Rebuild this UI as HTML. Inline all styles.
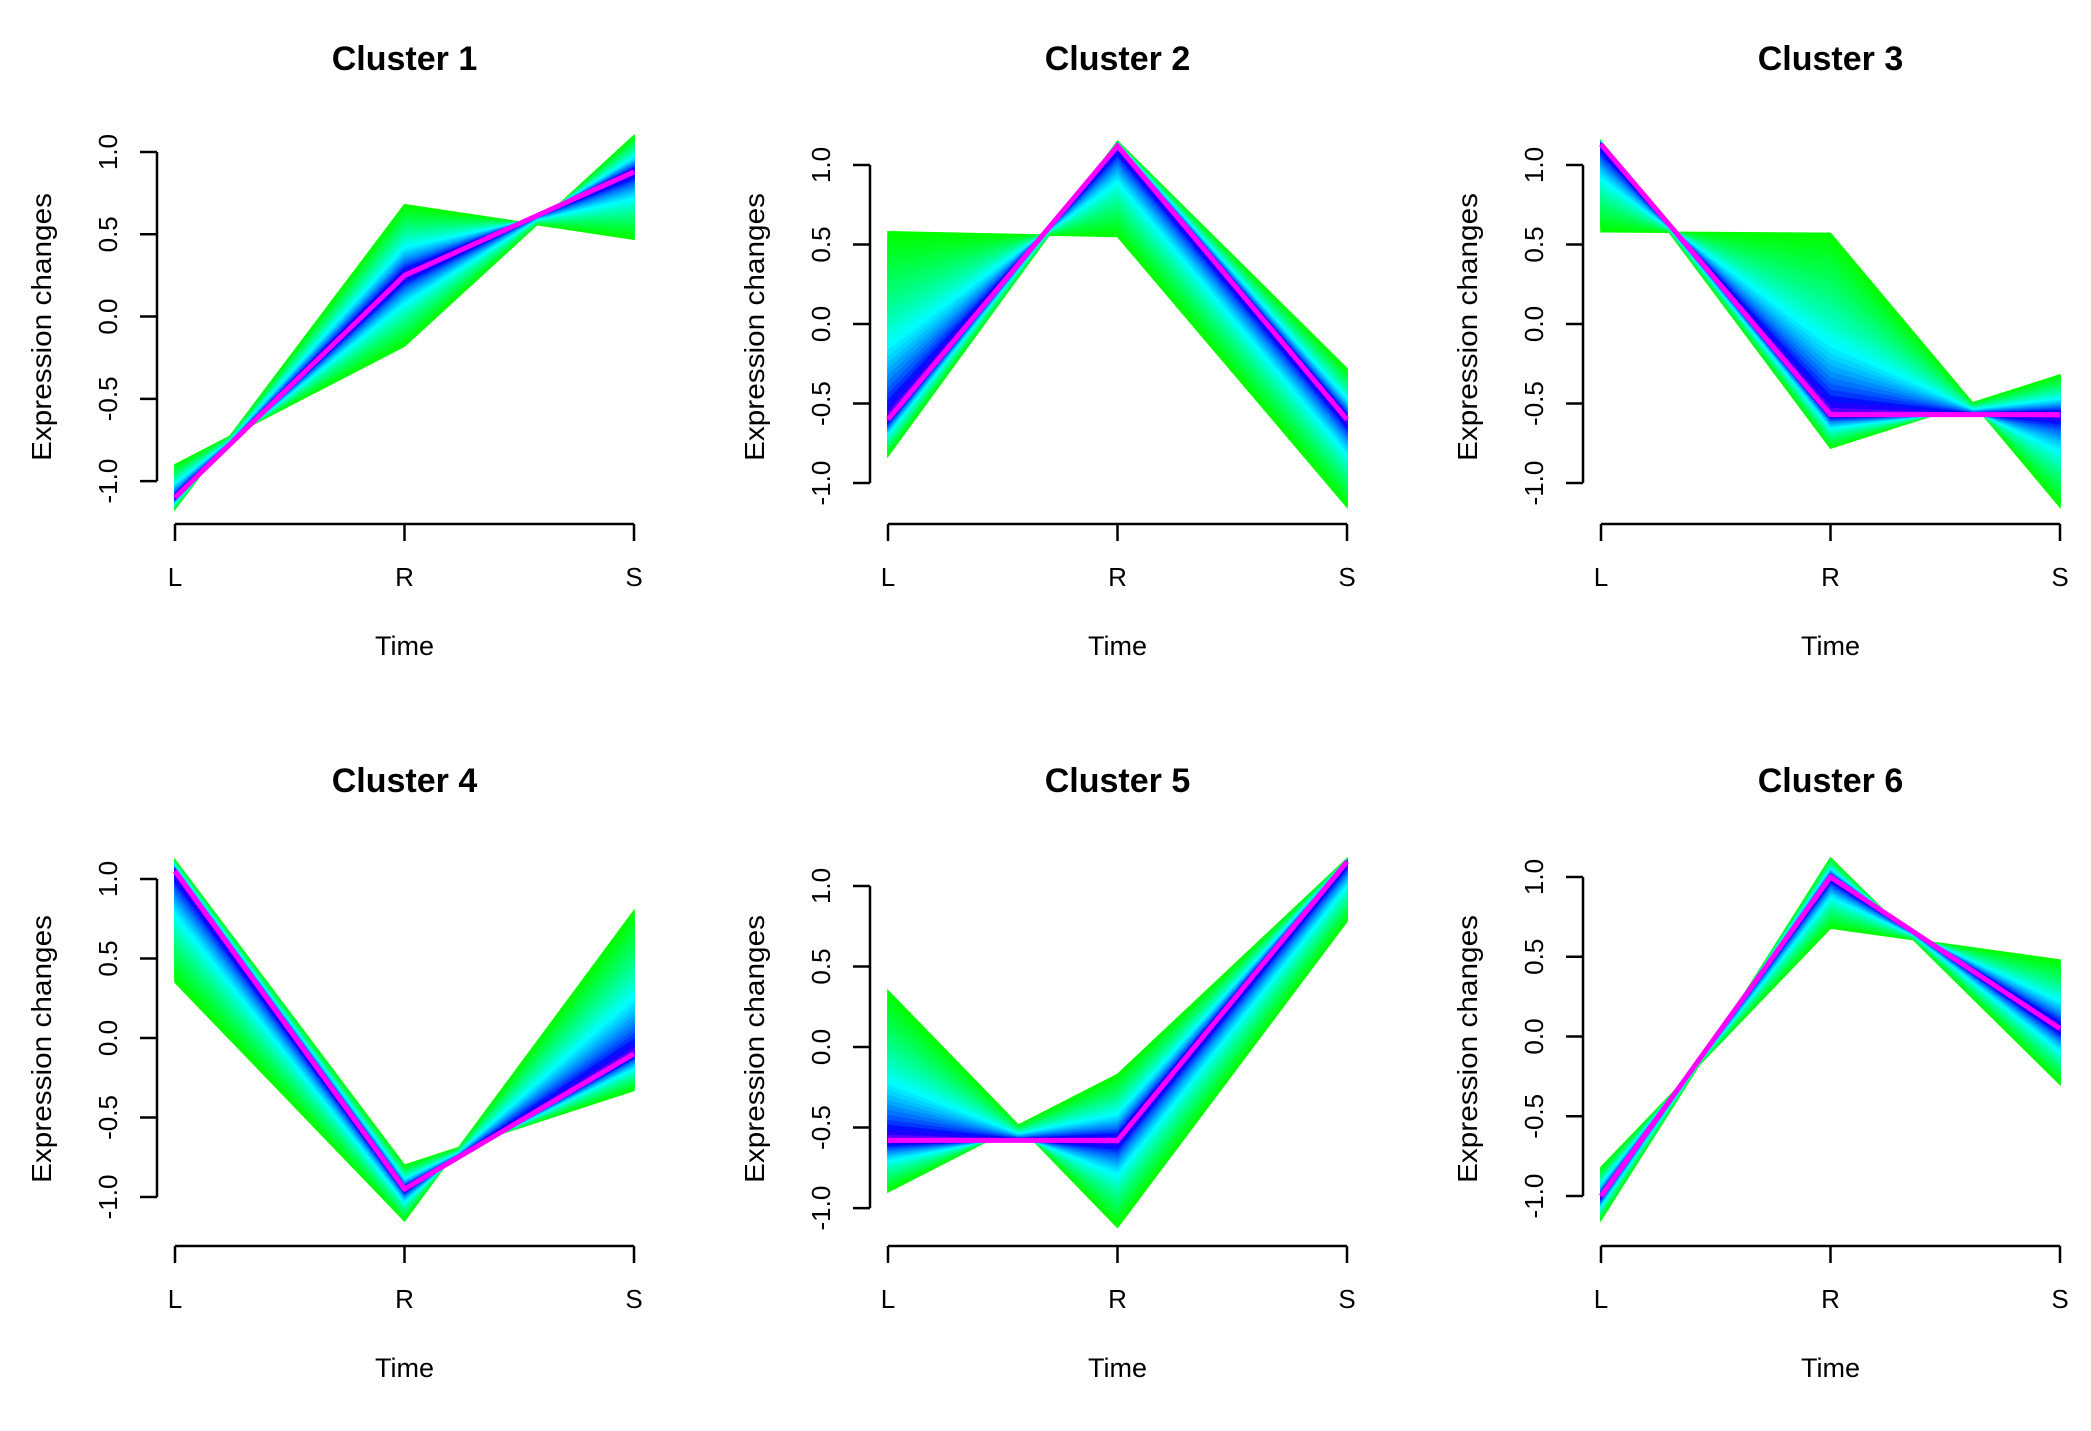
<!DOCTYPE html>
<html><head><meta charset="utf-8"><style>
html,body{margin:0;padding:0;background:#fff}
svg text{font-family:"Liberation Sans",Arial,sans-serif;fill:#000}
</style></head><body>
<svg id="chart" width="2091" height="1426" viewBox="0 0 2091 1426" xmlns="http://www.w3.org/2000/svg"></svg>
<script>
const categories = ["L","R","S"];
const clusterTitles = ["Cluster 1","Cluster 2","Cluster 3","Cluster 4","Cluster 5","Cluster 6"];
const centerValues = [[-1.10,0.25,0.88],[-0.60,1.12,-0.60],[1.13,-0.57,-0.57],[1.05,-0.95,-0.10],[-0.58,-0.58,1.15],[-1.00,1.00,0.05]];
const edgeA = [[-0.90,-0.18,1.10],[0.58,0.55,-1.15],[0.58,0.57,-1.15],[0.35,-1.15,0.80],[0.35,-1.12,0.78],[-0.82,0.68,0.48]];
const edgeB = [[-1.17,0.68,0.47],[-0.83,1.15,-0.28],[1.15,-0.78,-0.32],[1.12,-0.80,-0.33],[-0.90,-0.17,1.17],[-1.15,1.12,-0.30]];
const yLims = [[-1.188,1.134],[-1.182,1.22],[-1.182,1.22],[-1.233,1.17],[-1.161,1.211],[-1.238,1.157]];
const yTicks = [-1.0,-0.5,0.0,0.5,1.0];
const yTickLabels = ["-1.0","-0.5","0.0","0.5","1.0"];

const svg = document.getElementById('chart');
const NS = "http://www.w3.org/2000/svg";
function mk(tag, attrs, parent){const e=document.createElementNS(NS,tag);for(const k in attrs)e.setAttribute(k,attrs[k]);(parent||svg).appendChild(e);return e;}

const COLX=713, ROWY=722;
for(let p=0;p<6;p++){
  const ox=(p%3)*COLX, oy=Math.floor(p/3)*ROWY;
  const g=mk('g',{});
  
  
  const T=130+oy,B=512+oy,L=175+ox,Rr=634+ox;
  const xs=i=>L+(Rr-L)*i/(categories.length-1);
  const ys=v=>B-(v-yLims[p][0])/(yLims[p][1]-yLims[p][0])*(B-T);
  const N=30;
  for(let k=N;k>=1;k--){
    const t=k/N;
    const a=centerValues[p].map((c,i)=>c+t*(edgeA[p][i]-c));
    const b=centerValues[p].map((c,i)=>c+t*(edgeB[p][i]-c));
    let pts=[];
    a.forEach((v,i)=>pts.push(xs(i)+','+ys(v)));
    for(let i=b.length-1;i>=0;i--)pts.push(xs(i)+','+ys(b[i]));
    const hue=300-180*Math.pow(t,0.45);
    const poly=mk('polygon',{points:pts.join(' '),fill:'hsl('+hue+',100%,50%)',stroke:'hsl('+hue+',100%,50%)','stroke-width':1.5},g);
    
    
  }
  const line=mk('polyline',{points:centerValues[p].map((v,i)=>xs(i)+','+ys(v)).join(' '),fill:'none',stroke:'#ff00ff','stroke-width':5},g);
  
  
  const ax=157+ox;
  const yl=mk('line',{x1:ax,x2:ax,y1:ys(1),y2:ys(-1),stroke:'#000','stroke-width':2.5},g);
  
  
  yTicks.forEach((v,i)=>{
    mk('line',{x1:ax-17,x2:ax,y1:ys(v),y2:ys(v),stroke:'#000','stroke-width':2.5},g);
    const tx=mk('text',{x:0,y:0,'font-size':26,'text-anchor':'middle',transform:'translate('+(117+ox)+','+ys(v)+') rotate(-90)'},g);
    tx.textContent=yTickLabels[i];
    
    
  });
  const xa=524+oy;
  const xl=mk('line',{x1:L,x2:Rr,y1:xa,y2:xa,stroke:'#000','stroke-width':2.5},g);
  
  
  categories.forEach((c,i)=>{
    mk('line',{x1:xs(i),x2:xs(i),y1:xa,y2:xa+17,stroke:'#000','stroke-width':2.5},g);
    const tx=mk('text',{x:xs(i),y:586+oy,'font-size':26,'text-anchor':'middle'},g);
    tx.textContent=c;
    
    
  });
  const xt=mk('text',{x:(L+Rr)/2,y:655+oy,'font-size':27,'text-anchor':'middle'},g);
  xt.textContent='Time';
  
  
  const yt=mk('text',{x:0,y:0,'font-size':28,'text-anchor':'middle',textLength:268,lengthAdjust:'spacingAndGlyphs',transform:'translate('+(51+ox)+','+(327+oy)+') rotate(-90)'},g);
  yt.textContent='Expression changes';
  
  
  const ti=mk('text',{x:(L+Rr)/2,y:70+oy,'font-size':34,'font-weight':'bold','text-anchor':'middle'},g);
  ti.textContent=clusterTitles[p];
  
  
}
</script>
</body></html>
